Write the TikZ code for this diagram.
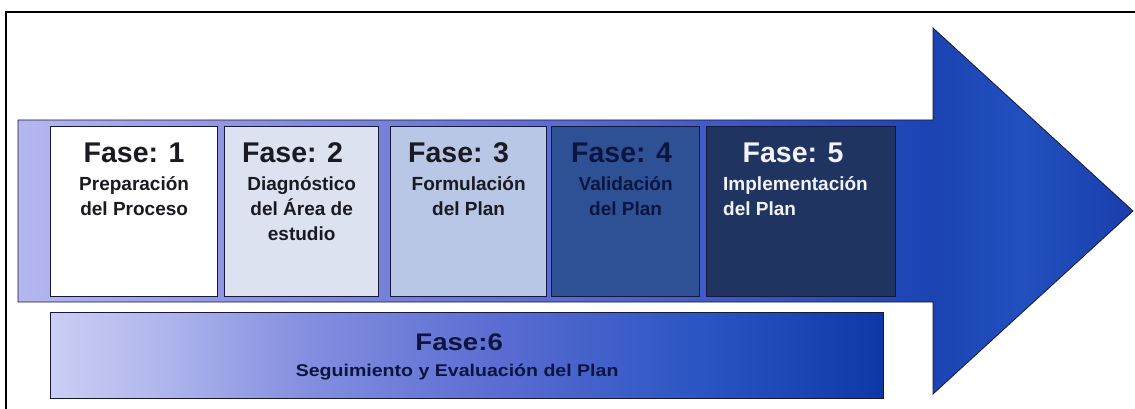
\documentclass[tikz,border=0pt]{standalone}
\usepackage{fontspec}
\setmainfont{Liberation Sans}
\newfontfamily\widefont[FakeStretch=1.15]{Liberation Sans}
\usetikzlibrary{calc}
\usetikzlibrary{positioning}
\definecolor[named]{PhasePale}{HTML}{DCE2F0}
\definecolor[named]{PhaseLight}{HTML}{B8C7E5}
\definecolor[named]{PhaseMid}{HTML}{2E5195}
\definecolor[named]{PhaseDark}{HTML}{1F3461}
\definecolor[named]{EdgeNavy}{HTML}{15183A}
\definecolor[named]{InkDark}{HTML}{1A1A22}
\definecolor[named]{InkNavy}{HTML}{0C1540}
\definecolor[named]{InkPale}{HTML}{F2F2F8}
\definecolor[named]{ShaftA}{HTML}{B5B8EF}
\definecolor[named]{ShaftB}{HTML}{9297E3}
\definecolor[named]{ShaftC}{HTML}{5C6BD2}
\definecolor[named]{ShaftD}{HTML}{2047B8}
\definecolor[named]{HeadA}{HTML}{1C43B2}
\definecolor[named]{HeadB}{HTML}{2150BE}
\definecolor[named]{HeadC}{HTML}{1A3EAC}
\definecolor[named]{BarA}{HTML}{CBCEF4}
\definecolor[named]{BarB}{HTML}{B3B9EE}
\definecolor[named]{BarC}{HTML}{8590E0}
\definecolor[named]{BarD}{HTML}{5A6CD2}
\definecolor[named]{BarE}{HTML}{2A55C3}
\definecolor[named]{BarF}{HTML}{0D38A5}
\pgfdeclarehorizontalshading{shaftshade}{100bp}{color(0bp)=(ShaftA); color(25bp)=(ShaftA);
  color(34bp)=(ShaftB); color(49bp)=(ShaftC); color(64.5bp)=(ShaftD); color(66bp)=(HeadA);
  color(70bp)=(HeadB); color(75bp)=(HeadC); color(100bp)=(HeadC)}
\pgfdeclarehorizontalshading{barshade}{100bp}{color(0bp)=(BarA); color(25bp)=(BarA);
  color(31bp)=(BarB); color(40bp)=(BarC); color(52bp)=(BarD); color(64bp)=(BarE);
  color(75bp)=(BarF); color(100bp)=(BarF)}
\tikzset{
  phase/.style={draw=EdgeNavy, line width=1.3pt, rectangle, inner sep=0pt,
    anchor=north west, minimum height=170pt},
  phasetitle/.style={anchor=base, inner sep=0pt, text=InkDark,
    font=\fontsize{28.5}{30}\selectfont\bfseries},
  phasetext/.style={anchor=base, inner sep=0pt, text=InkDark,
    font=\fontsize{19}{25}\selectfont\bfseries}
}

\begin{document}
\begin{tikzpicture}[x=1pt,y=-1pt]
    \useasboundingbox (0,0) rectangle (1135,409);

    % Frame
    \draw[line width=2pt] (6,412) |- (1138,12);

    % Coordinates
    \path (18,120) coordinate (ST)
      (933,120) coordinate (HT) (933,28) coordinate (HTT)
      (1133,211) coordinate (Tip)
      (933,394) coordinate (HBB) (933,302) coordinate (HB)
      (18,302) coordinate (SB);

    % Arrow
    \draw[draw=EdgeNavy, line width=0.8pt, shading=shaftshade]
      (ST) -- (HT) -- (HTT) -- (Tip) -- (HBB) -- (HB) -- (SB) -- cycle;

    % Phase boxes
    \node[phase, fill=white, minimum width=167pt] (box1) at (50,126) {};
    \node[phase, fill=PhasePale, minimum width=154pt] (box2) at (224,126) {};
    \node[phase, fill=PhaseLight, minimum width=156pt] (box3) at (390,126) {};
    \node[phase, fill=PhaseMid, minimum width=148pt] (box4) at (551,126) {};
    \node[phase, fill=PhaseDark, minimum width=189pt] (box5) at (706,126) {};

    % Phase labels
    \node[phasetitle] (title1) at ([yshift=-37pt]box1.north) {Fase: 1};
    \node[phasetext] (text1a) at ([yshift=-64pt]box1.north) {Preparación};
    \node[phasetext] (text1b) at ([yshift=-25pt]text1a.base) {del Proceso};

    \node[phasetitle] (title2) at ([xshift=-9pt,yshift=-37pt]box2.north) {Fase: 2};
    \node[phasetext] (text2a) at ([yshift=-64pt]box2.north) {Diagnóstico};
    \node[phasetext] (text2b) at ([yshift=-25pt]text2a.base) {del Área de};
    \node[phasetext] (text2c) at ([yshift=-25pt]text2b.base) {estudio};

    \node[phasetitle] (title3) at ([xshift=-10pt,yshift=-37pt]box3.north) {Fase: 3};
    \node[phasetext] (text3a) at ([yshift=-64pt]box3.north) {Formulación};
    \node[phasetext] (text3b) at ([yshift=-25pt]text3a.base) {del Plan};

    \node[phasetitle, text=InkNavy] (title4) at ([xshift=-4pt,yshift=-37pt]box4.north) {Fase: 4};
    \node[phasetext, text=InkNavy] (text4a) at ([yshift=-64pt]box4.north) {Validación};
    \node[phasetext, text=InkNavy] (text4b) at ([yshift=-25pt]text4a.base) {del Plan};

    \node[phasetitle, text=InkPale] (title5) at ([xshift=-8pt,yshift=-37pt]box5.north) {Fase: 5};
    \node[phasetext, text=InkPale, anchor=base west] (text5a)
      at ([xshift=17pt,yshift=-64pt]box5.north west) {Implementación};
    \node[phasetext, text=InkPale, anchor=base west] (text5b)
      at ([yshift=-25pt]text5a.base west) {del Plan};

    % Follow-up bar
    \node[phase, shading=barshade, minimum width=833pt, minimum height=86pt] (phase6) at (50,312) {};
    \node[phasetitle, text=InkNavy, font=\fontsize{24}{26}\widefont\bfseries]
      (title6) at ([xshift=-8pt,yshift=-38pt]phase6.north) {Fase:6};
    \node[phasetext, text=InkNavy, font=\fontsize{17}{20}\widefont\bfseries]
      (text6) at ([xshift=-10pt,yshift=-64pt]phase6.north) {Seguimiento y Evaluación del Plan};

\end{tikzpicture}
\end{document}
